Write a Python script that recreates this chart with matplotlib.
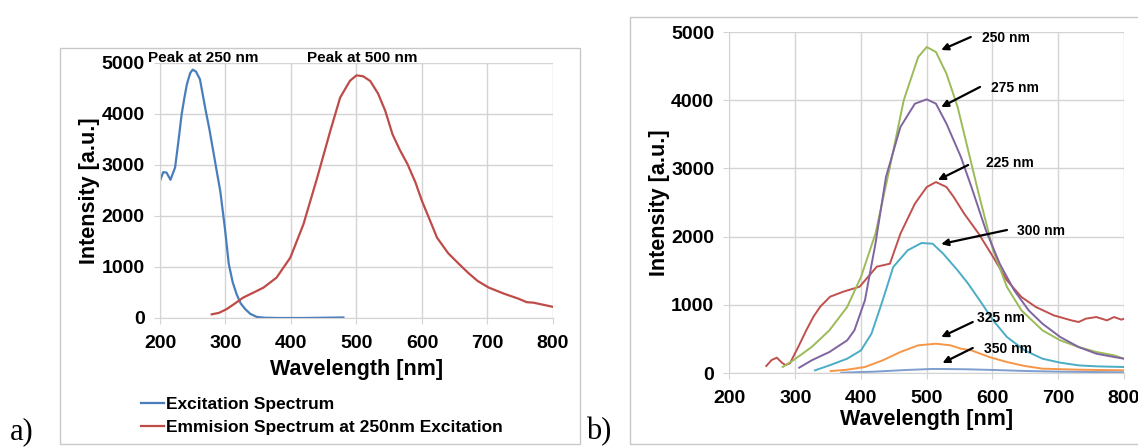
import matplotlib.pyplot as plt
from matplotlib.patches import Rectangle

plt.rcParams['font.family'] = ['Liberation Sans', 'DejaVu Sans']

# panel a: excitation / emission spectra
exc_nm = [200, 205, 210, 216, 223, 228, 233, 237, 241, 246, 250, 255, 261, 265, 270, 275,
          282, 287, 292, 299, 305, 311, 317, 323, 330, 338, 348, 360, 380, 420, 480]
exc_int = [2690, 2860, 2850, 2710, 2950, 3450, 3990, 4300, 4580, 4800, 4870, 4830, 4680, 4400,
           4050, 3730, 3220, 2850, 2490, 1770, 1060, 700, 465, 290, 176, 80, 20, 5, 0, 0, 10]

emi_nm = [279, 290, 302, 315, 327, 343, 358, 378, 399, 419, 440, 460, 475, 490, 500, 510, 521,
          533, 544, 555, 566, 578, 590, 600, 612, 623, 640, 657, 671, 685, 702, 725, 747, 760,
          770, 785, 801]
emi_int = [72, 100, 176, 290, 400, 500, 596, 792, 1184, 1837, 2750, 3667, 4320, 4650, 4757,
           4740, 4647, 4400, 4059, 3602, 3300, 3014, 2660, 2294, 1920, 1575, 1270, 1053, 880,
           726, 596, 478, 380, 310, 301, 260, 216]

# panel b: emission at several excitation wavelengths
g_nm = [281, 297, 325, 352, 379, 400, 422, 444, 465, 487, 500, 514, 530, 547, 563, 579, 601,
        622, 644, 676, 703, 731, 758, 785, 800]
g_int = [88, 186, 381, 626, 968, 1408, 2043, 3021, 3998, 4633, 4780, 4707, 4389, 3900, 3265,
         2630, 1799, 1261, 919, 626, 479, 381, 308, 259, 210]

p_nm = [306, 325, 352, 379, 390, 406, 422, 438, 460, 482, 500, 514, 530, 552, 568, 590, 611,
        633, 655, 676, 703, 731, 758, 785, 800]
p_int = [78, 186, 308, 479, 626, 1066, 1896, 2874, 3607, 3949, 4013, 3949, 3656, 3167, 2727,
         2092, 1603, 1212, 919, 723, 528, 381, 283, 235, 210]

r_nm = [256, 264, 272, 280, 285, 292, 305, 317, 328, 338, 353, 373, 398, 424, 444, 460, 482,
        500, 514, 530, 541, 557, 579, 601, 622, 644, 666, 693, 720, 731, 742, 758, 774, 785,
        796, 800]
r_int = [103, 190, 225, 150, 117, 142, 390, 630, 830, 972, 1119, 1192, 1266, 1559, 1603, 2043,
         2483, 2727, 2800, 2727, 2581, 2336, 2043, 1701, 1359, 1114, 968, 846, 772, 748, 797,
         821, 772, 821, 782, 797]

c_nm = [330, 352, 379, 400, 416, 433, 449, 471, 492, 509, 525, 547, 563, 584, 601, 622, 649,
        676, 703, 731, 758, 800]
c_int = [39, 112, 210, 332, 577, 1066, 1554, 1799, 1906, 1896, 1750, 1505, 1310, 1017, 772,
         528, 332, 210, 152, 112, 98, 88]

o_nm = [354, 379, 406, 433, 460, 487, 514, 536, 552, 568, 595, 622, 649, 676, 731, 800]
o_int = [29, 49, 88, 186, 308, 406, 430, 406, 357, 332, 235, 161, 103, 64, 49, 39]

b_nm = [370, 420, 470, 510, 560, 600, 650, 700, 750, 800]
b_int = [5, 20, 45, 60, 55, 45, 30, 20, 15, 10]

# annotation labels: (text, text x, text y, arrow tail, arrow head)
labels = ['250 nm', '275 nm', '225 nm', '300 nm', '325 nm', '350 nm']
label_xy = [(584, 4912), (598, 4179), (590, 3079), (637, 2082), (577, 806), (587, 352)]
tail_xy = [(567, 4927), (581, 4194), (563, 3050), (622, 2097), (570, 748), (570, 367)]
head_xy = [(522, 4736), (522, 3900), (517, 2830), (522, 1891), (522, 528), (524, 147)]

xticks = [200, 300, 400, 500, 600, 700, 800]
yticks = [0, 1000, 2000, 3000, 4000, 5000]

grid_c = '#d4d4d4'

fig = plt.figure(figsize=(11.38, 4.47), dpi=100)
ax1 = fig.add_axes([0.1406, 0.2886, 0.3453, 0.5705])
ax2 = fig.add_axes([0.641, 0.1655, 0.3467, 0.7629])


def style(ax, xpad):
    ax.set_xlim(200, 800)
    ax.set_ylim(0, 5000)
    ax.set_xticks(xticks)
    ax.set_yticks(yticks)
    ax.grid(True, color=grid_c, lw=1)
    ax.set_axisbelow(True)
    for s in ['top', 'right']:
        ax.spines[s].set_visible(False)
    for s in ['left', 'bottom']:
        ax.spines[s].set_color(grid_c)
    ax.tick_params(color=grid_c, length=4, labelsize=14)
    ax.tick_params(axis='x', pad=8)
    ax.tick_params(axis='y', pad=7)
    for t in ax.get_xticklabels() + ax.get_yticklabels():
        t.set_fontweight('bold')
    ax.set_xlabel('Wavelength [nm]', fontsize=15.5, fontweight='bold', labelpad=xpad)
    ax.set_ylabel('Intensity [a.u.]', fontsize=15.5, fontweight='bold', labelpad=1)


style(ax1, 5)
ax1.plot(exc_nm, exc_int, color='#4a7ebb', lw=1.6, label='Excitation Spectrum')
ax1.plot(emi_nm, emi_int, color='#be4b48', lw=1.6,
         label='Emmision Spectrum at 250nm Excitation')
ax1.text(182, 5100, 'Peak at 250 nm', fontsize=11, fontweight='bold', va='center',
         clip_on=False)
ax1.text(424, 5100, 'Peak at 500 nm', fontsize=11, fontweight='bold', va='center',
         clip_on=False)
fig.legend(loc='upper left', bbox_to_anchor=(0.118, 0.127), frameon=False,
           handlelength=1.3, handletextpad=0.15, labelspacing=0.45,
           prop={'weight': 'bold', 'size': 12.5}, borderaxespad=0)

style(ax2, 2)
ax2.plot(r_nm, r_int, color='#c0504d', lw=1.4)
ax2.plot(g_nm, g_int, color='#9bbb59', lw=1.4)
ax2.plot(p_nm, p_int, color='#8064a2', lw=1.4)
ax2.plot(c_nm, c_int, color='#4bacc6', lw=1.4)
ax2.plot(o_nm, o_int, color='#f79646', lw=1.4)
ax2.plot(b_nm, b_int, color='#7f9dcf', lw=1.4)
for lab, txy, a, h in zip(labels, label_xy, tail_xy, head_xy):
    ax2.text(txy[0], txy[1], lab, fontsize=10, fontweight='bold', va='center')
    ax2.annotate('', xy=h, xytext=a,
                 arrowprops=dict(arrowstyle='-|>', color='black', lw=1.6,
                                 mutation_scale=10, shrinkA=0, shrinkB=0))

fig.add_artist(Rectangle((60 / 1138, 3 / 447), 520 / 1138, 396 / 447,
                         transform=fig.transFigure, fill=False, ec='#c8c8c8', lw=1))
fig.add_artist(Rectangle((630 / 1138, 3 / 447), 510 / 1138, 427 / 447,
                         transform=fig.transFigure, fill=False, ec='#c8c8c8', lw=1))
fig.text(10 / 1138, 8 / 447, 'a)', fontsize=22, family='Liberation Serif')
fig.text(586 / 1138, 8 / 447, 'b)', fontsize=22, family='Liberation Serif')

fig.savefig('out.png', dpi=100)
